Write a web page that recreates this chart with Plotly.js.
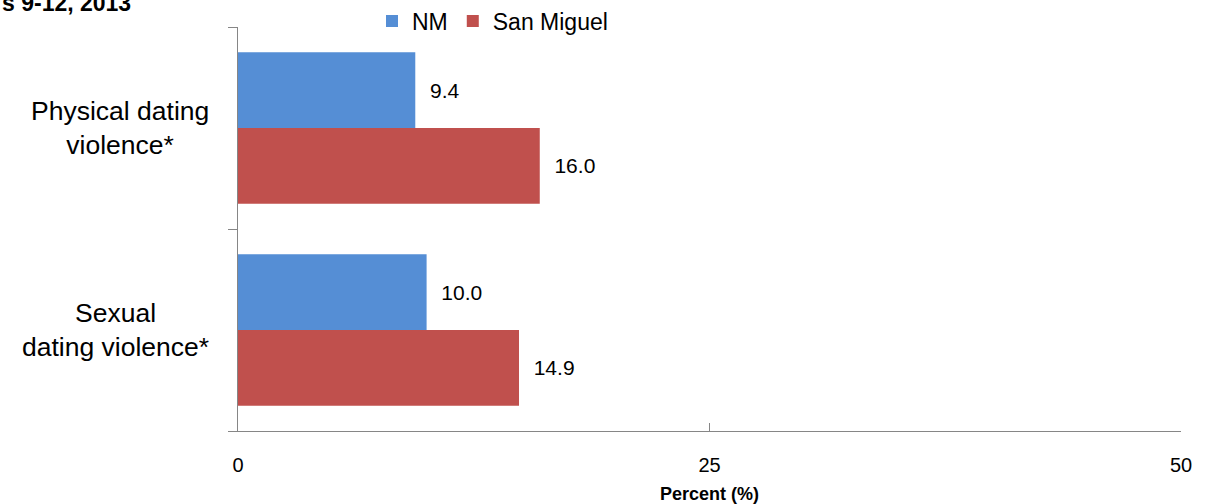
<!DOCTYPE html>
<html>
<head>
<meta charset="utf-8">
<script src="https://cdn.plot.ly/plotly-3.0.1.min.js"></script>
<style>html,body{margin:0;padding:0;background:#fff;}#chart{width:1205px;height:504px;}</style>
</head>
<body>
<div id="chart"></div>
<script>
const categories = ["Physical dating<br>violence*", "Sexual<br>dating violence*"];
const seriesNames = ["NM", "San Miguel"];
const nmValues = [9.4, 10.0];
const sanMiguelValues = [16.0, 14.9];
const xTickValues = [0, 25, 50];
const xTickLabels = ["0", "25", "50"];
const titleText = "s 9-12, 2013";
const xAxisTitle = "Percent (%)";

const FONT = "'Liberation Sans', Arial, sans-serif";
const W = 1205, H = 504;
const margin = {l: 238, r: 24, t: 27, b: 73, autoexpand: false};
const pw = W - margin.l - margin.r, ph = H - margin.t - margin.b;

const catIdx = categories.map((c, i) => i);

function barTrace(name, vals, color) {
  return {
    type: 'bar', orientation: 'h', name: name,
    x: vals, y: catIdx,
    marker: {color: color, line: {width: 0}},
    text: vals.map(v => v.toFixed(1)),
    texttemplate: '\u00a0\u00a0%{text}',
    textposition: 'outside',
    cliponaxis: false,
    textfont: {family: FONT, size: 21, color: '#000'},
    hoverinfo: 'none'
  };
}

const data = [
  barTrace(seriesNames[0], nmValues, '#558ED5'),
  barTrace(seriesNames[1], sanMiguelValues, '#C0504D')
];

const annotations = categories.map((c, i) => ({
  text: c, xref: 'paper', yref: 'y', x: -27 / pw, y: i,
  xanchor: 'right', yanchor: 'middle', align: 'center', showarrow: false,
  font: {family: FONT, size: 26.5, color: '#000'}
}));
annotations.push({
  text: '<b>' + titleText + '</b>', xref: 'paper', yref: 'paper',
  x: -margin.l / pw, y: 1 + 9 / ph, xanchor: 'left', yanchor: 'bottom',
  showarrow: false, font: {family: FONT, size: 23, color: '#000'}
});

const layout = {
  width: W, height: H, margin: margin,
  paper_bgcolor: '#fff', plot_bgcolor: '#fff',
  barmode: 'group', bargap: 0.25, bargroupgap: 0,
  showlegend: true,
  legend: {
    orientation: 'h', x: (372 - margin.l) / pw, xanchor: 'left',
    y: 1 + 6 / ph, yanchor: 'middle', traceorder: 'normal',
    font: {family: FONT, size: 23, color: '#000'},
    itemclick: false, bgcolor: 'rgba(0,0,0,0)'
  },
  xaxis: {
    range: [0, 50], tickvals: xTickValues, ticktext: xTickLabels,
    ticks: 'inside', ticklen: 8, tickcolor: '#868686', tickwidth: 1,
    showline: true, linecolor: '#868686', linewidth: 1,
    showgrid: false, zeroline: false, automargin: false,
    ticklabelstandoff: 16,
    tickfont: {family: FONT, size: 20, color: '#000'},
    title: {text: '<b>' + xAxisTitle + '</b>', standoff: 12, font: {family: FONT, size: 18, color: '#000'}}
  },
  yaxis: {
    type: 'linear', range: [1.5, -0.5], tickvals: [-0.5, 0.5, 1.5],
    showticklabels: false, ticks: 'outside', ticklen: 9, tickcolor: '#868686',
    showline: true, linecolor: '#868686', linewidth: 1,
    showgrid: false, zeroline: false, automargin: false
  },
  annotations: annotations,
  font: {family: FONT}
};

Plotly.newPlot('chart', data, layout, {displayModeBar: false, staticPlot: true});
</script>
</body>
</html>
